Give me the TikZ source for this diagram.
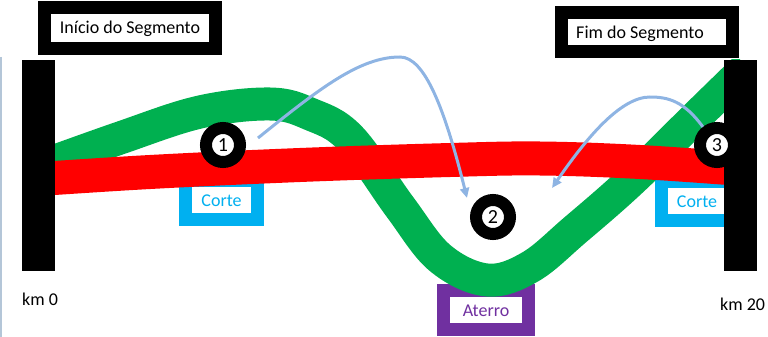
\documentclass[tikz,border=0pt]{standalone}
\usepackage{fontspec}
\setmainfont{Carlito}
\usetikzlibrary{arrows.meta}
\definecolor{cgreen}{HTML}{00B050}
\definecolor{cred}{HTML}{FF0000}
\definecolor{cblue}{HTML}{00B0F0}
\definecolor{cpurple}{HTML}{7030A0}
\definecolor{carrow}{HTML}{8EB4E3}
\definecolor{cedge}{HTML}{B4C6D8}
\begin{document}
\begin{tikzpicture}[x=1pt,y=-1pt,
  lbl/.style={font=\fontsize{18}{20}\selectfont, inner sep=0pt},
  framebox/.style={lbl, rectangle, draw=#1, fill=white, line width=13pt,
    text height=12pt, text depth=0pt},
  bar/.style={rectangle, fill=black, inner sep=0pt, minimum width=33pt, minimum height=211pt},
  circ/.style={circle, draw=black, fill=white, line width=12pt, minimum size=34pt,
    inner sep=0pt, font=\fontsize{20}{20}\selectfont, text height=13pt, text depth=0pt},
  arr/.style={draw=carrow, line width=3pt, -{Triangle[length=10pt,width=9pt]}},
  band/.style={line width=#1, line cap=butt}
]
\useasboundingbox (0,0) rectangle (768,337);
\draw[cedge, line width=1.5pt] (0.75,57) -- (0.75,337);

% cut / fill boxes (under the bands)
\node[framebox=cblue, text=cblue, minimum width=72pt, minimum height=39pt] (corteL) at (221.5,200) {Corte};
\node[framebox=cblue, text=cblue, minimum width=72pt, minimum height=39pt] (corteR) at (697,201) {Corte};
\node[framebox=cpurple, text=cpurple, minimum width=85pt, minimum height=39pt] (aterro) at (486,310) {Aterro};

% terrain and road bands
\begin{scope}
\clip (40,60) rectangle (740,337);
\draw[cgreen, band=33pt] plot[smooth, tension=0.6] coordinates {
  (25,172) (120,138) (200,112) (270,104) (310,114) (350,138) (400,207)
  (440,258) (487,280) (530,267) (575,230) (632,180) (700,113) (775,40)};
\draw[cred, band=34pt] plot[smooth, tension=0.6] coordinates {
  (25,180) (150,172) (300,165) (450,160) (540,158.5) (640,162) (755,170)};
\end{scope}

% segment ends
\node[bar] (barL) at (38.5,165.5) {};
\node[bar] (barR) at (740,165.5) {};

% numbered markers
\node[circ] (c1) at (223,145) {1};
\node[circ] (c2) at (493,217) {2};
\node[circ] (c3) at (717,145) {3};

% arrows
\coordinate (a1s) at (258,138);
\coordinate (a1m) at (400,57);
\coordinate (a1e) at (467,198);
\coordinate (a2m) at (650,97);
\coordinate (a2e) at (552,188);
\draw[arr] (a1s) .. controls (320,88) and (360,57) .. (a1m)
  .. controls (425,57) and (445,110) .. (a1e);
\draw[arr] (c3.128) .. controls (684,101) and (668,97) .. (a2m)
  .. controls (620,97) and (585,140) .. (a2e);

% titles
\node[framebox=black, minimum width=171pt, minimum height=41pt] (inicio) at (130,28) {Início do Segmento};
\node[framebox=black, minimum width=171pt, minimum height=39pt] (fim) at (647,32) {Fim do Segmento\kern14pt};

% km labels
\node[lbl, anchor=base west] (km0) at (22,305) {km 0};
\node[lbl, anchor=base west] (km20) at (720,310) {km 20};
\end{tikzpicture}
\end{document}
